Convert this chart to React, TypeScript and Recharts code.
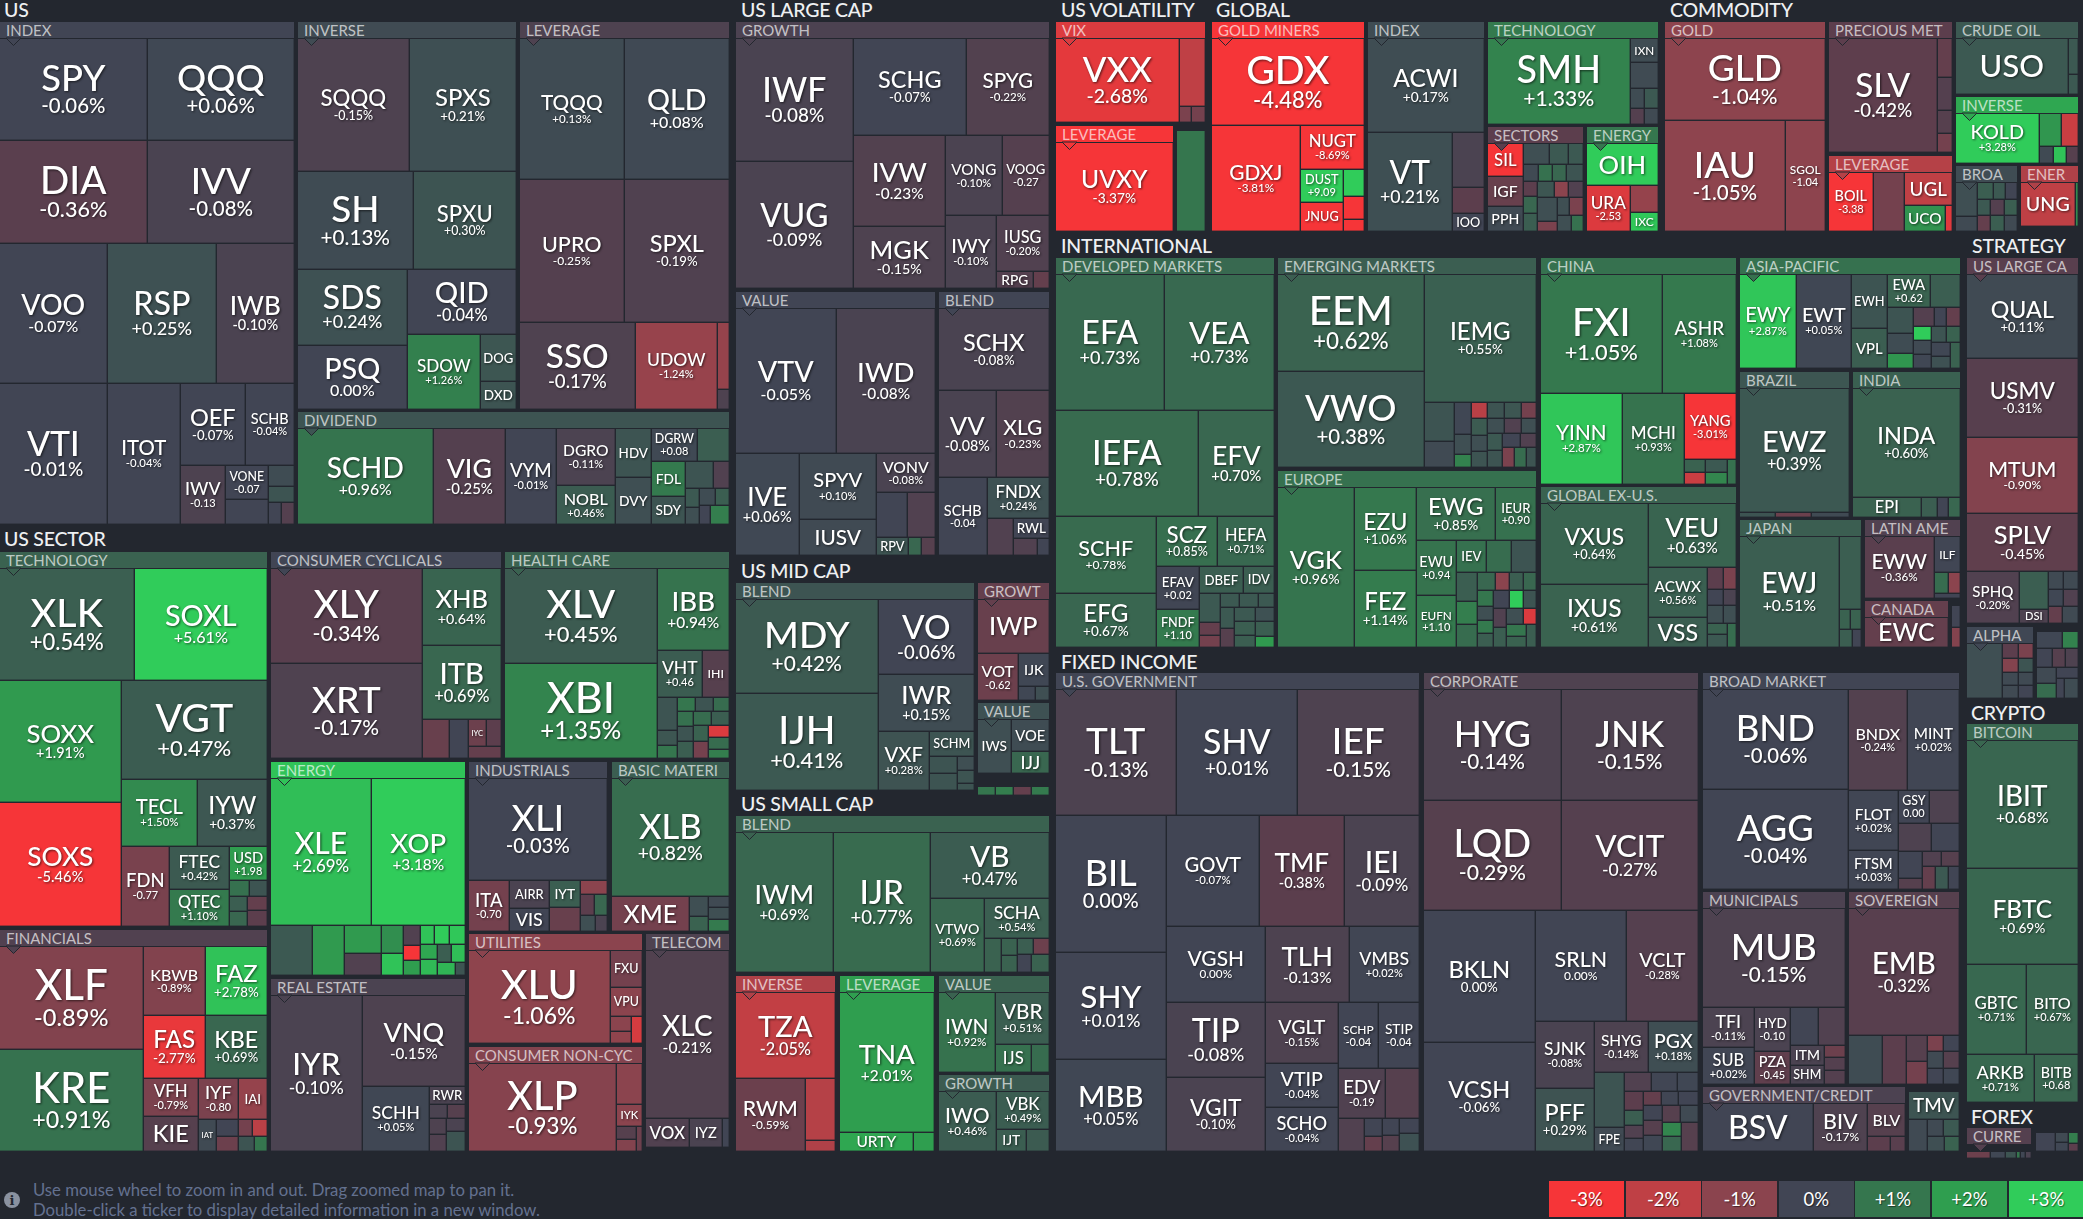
import { Treemap } from "recharts";

type Cell = [string, number, number, string?];
type Item = Cell | Item[];

const BG = "#23272f";
const FONT = "Lato, sans-serif";

const usIndex: Cell[] = [["SPY", 14850, -0.06], ["QQQ", 14800, 0.06], ["DIA", 15000, -0.36], ["IVV", 14900, -0.08], ["VOO", 14870, -0.07], ["VTI", 15140, -0.01], ["RSP", 15100, 0.25], ["IWB", 10700, -0.1], ["ITOT", 10220, -0.04], ["OEF", 5250, -0.07], ["SCHB", 4020, -0.04], ["IWV", 2640, -0.13, "n"], ["VONE", 1430, -0.07, "n"], ["", 1050, -0.02], ["", 550, 0.15], ["", 416, 0.3], ["", 280, -0.02], ["", 270, -0.25]];
const usInverse: Cell[] = [["SQQQ", 14780, -0.15], ["SPXS", 13990, 0.21], ["SH", 11270, 0.13], ["SPXU", 10090, 0.3], ["SDS", 8250, 0.24], ["PSQ", 7040, 0], ["QID", 7020, -0.04], ["SDOW", 5400, 1.26], ["DOG", 1680, 0.35, "t"], ["DXD", 945, 0.3, "t"]];
const usLeverage: Cell[] = [["TQQQ", 14700, 0.13], ["QLD", 14560, 0.08], ["UPRO", 14910, -0.25], ["SPXL", 14770, -0.19], ["SSO", 10000, -0.17], ["UDOW", 7050, -1.24], ["", 800, -1.2], ["", 340, -0.15]];
const usDividend: Cell[] = [["SCHD", 12600, 0.96], ["VIG", 6670, -0.25], ["VYM", 4700, -0.01], ["DGRO", 3220, -0.11], ["NOBL", 2260, 0.46], ["HDV", 1715, 0.3, "t"], ["DVY", 1610, 0.2, "t"], ["DGRW", 1470, 0.08, "n"], ["", 1020, 0.5], ["FDL", 1160, 1.1, "t"], ["SDY", 920, 0.3, "t"], ["", 730, 0.3], ["", 430, -0.2], ["", 255, 0.4], ["", 240, 0.2], ["", 270, 0.15], ["", 225, 0.5], ["", 210, 0], ["", 240, 1.2]];

const secTech: Cell[] = [["XLK", 14820, 0.54], ["SOXL", 14760, 5.61], ["SOXX", 14640, 1.91], ["SOXS", 14760, -5.46], ["VGT", 14260, 0.47], ["TECL", 5020, 1.5], ["IYW", 4620, 0.37], ["FDN", 3810, -0.77, "n"], ["FTEC", 2540, 0.42], ["QTEC", 2180, 1.1], ["USD", 1270, 1.98, "n"], ["", 310, 0.9], ["", 290, 0.3], ["", 270, 0.5], ["", 250, 0.7], ["", 270, -0.5], ["", 250, -0.4]];
const secCyclical: Cell[] = [["XLY", 14180, -0.34], ["XRT", 14180, -0.17], ["XHB", 6000, 0.64], ["ITB", 5770, 0.69], ["", 1050, -0.55], ["", 740, -0.05], ["IYC", 480, -0.6, "t"], ["", 400, -0.4], ["", 260, -0.5]];
const secHealth: Cell[] = [["XLV", 14080, 0.45], ["XBI", 14080, 1.35], ["IBB", 5770, 0.94], ["VHT", 2070, 0.46, "n"], ["IHI", 1215, -0.3, "t"], ["", 640, 0.3], ["", 300, 0.35], ["", 250, 1], ["", 250, 1], ["", 240, 0.3], ["", 240, 0.8], ["", 240, 0.9], ["", 240, 0.3], ["", 240, 0.5], ["", 240, 0.8], ["", 240, 0.5], ["", 240, 0.6], ["", 240, -0.7], ["", 240, -2.5], ["", 240, 0.8], ["", 240, 1.2]];
const secEnergy: Cell[] = [["XLE", 14200, 2.69], ["XOP", 13200, 3.18], ["", 2010, 0.4], ["", 1540, 1.9], ["", 990, 1.9], ["", 780, -0.2], ["", 580, 1.6], ["", 460, 2.8], ["", 320, -0.2], ["", 250, -3], ["", 240, 2], ["", 260, 2.8], ["", 270, 3], ["", 280, 2.9], ["", 240, 2.2], ["", 270, 2.6], ["", 240, 0.5], ["", 230, 2.7], ["", 230, 2.5], ["", 220, 0.3]];
const secIndustrial: Cell[] = [["XLI", 13660, -0.03], ["ITA", 2030, -0.7, "n"], ["AIRR", 1060, -0.1, "t"], ["VIS", 910, -0.05, "t"], ["IYT", 810, 0.5, "t"], ["", 700, -0.55], ["", 370, -1], ["", 280, -0.4], ["", 270, 0.7], ["", 230, 0.2], ["", 170, -0.1]];
const secMaterials: Cell[] = [["XLB", 13500, 0.82], ["XME", 2640, -0.7, "t"], ["", 370, 0.2], ["", 260, 0.6], ["", 230, 0.1], ["", 250, 0.2], ["", 240, 1.1]];
const secFinancials: Cell[] = [["XLF", 14380, -0.89], ["KRE", 14240, 0.91], ["KBWB", 4150, -0.89], ["FAZ", 4150, 2.78], ["FAS", 3780, -2.77], ["KBE", 3780, 0.69], ["VFH", 2010, -0.79], ["KIE", 1855, -0.3, "t"], ["IYF", 1600, -0.8, "n"], ["IAI", 1170, -1.2, "t"], ["IAT", 560, 0.1, "t"], ["", 364, -0.05], ["", 306, -0.6], ["", 238, -0.7], ["", 252, -1.9], ["", 231, 0.3], ["", 264, 1]];
const secRealEstate: Cell[] = [["IYR", 13950, -0.1], ["VNQ", 9110, -0.15], ["SCHH", 4224, 0.05], ["RWR", 630, -0.1, "t"], ["", 240, -0.1], ["", 240, -0.3], ["", 270, -0.15], ["", 270, -0.2], ["", 240, -0.1], ["", 240, 0.3]];
const secUtilities: Cell[] = [["XLU", 12740, -1.06], ["FXU", 1150, -0.7, "t"], ["VPU", 900, -1, "t"], ["", 310, -1], ["", 240, -1.1], ["", 240, -2.4]];
const secStaples: Cell[] = [["XLP", 12430, -0.93], ["", 1030, -1], ["IYK", 540, -1, "t"], ["", 247, -0.3], ["", 230, -0.9], ["", 180, -0.6]];
const secTelecom: Cell[] = [["XLC", 13700, -0.21], ["VOX", 1250, -0.2, "t"], ["IYZ", 930, -0.1, "t"], ["", 170, -0.05]];

const lcGrowth: Cell[] = [["IWF", 14210, -0.08], ["VUG", 14500, -0.09], ["SCHG", 10735, -0.07], ["SPYG", 7790, -0.22], ["IVW", 8140, -0.23], ["MGK", 5640, -0.15], ["VONG", 4424, -0.1], ["VOOG", 3713, -0.27, "n"], ["IWY", 3600, -0.1], ["IUSG", 2915, -0.2], ["RPG", 612, -0.25, "t"], ["", 272, -0.5]];
const lcValue: Item[] = [["VTV", 14200, -0.05], ["IWD", 13920, -0.08], ["IVE", 6320, 0.06], [["SPYV", 4910, 0.1], ["IUSV", 2700, 0.1, "t"]], [["VONV", 2240, -0.08], ["", 1360, -0.01], ["", 1230, -0.2], ["RPV", 558, 0.3, "t"], ["", 234, 0.7], ["", 252, -0.3]]];
const lcBlend: Cell[] = [["SCHX", 8800, -0.08], ["VV", 4845, -0.08], ["XLG", 4420, -0.23], ["SCHB", 3670, -0.04, "n"], ["FNDX", 2420, 0.24], ["", 940, -0.2], ["RWL", 684, -0.02, "t"], ["", 396, -0.2], ["", 234, -0.05]];

const mcBlend: Cell[] = [["MDY", 13020, 0.42], ["IJH", 13300, 0.41], ["VO", 6910, -0.06], ["IWR", 5280, 0.15], ["VXF", 2880, 0.28], ["SCHM", 1080, 0.3, "t"], ["", 468, 0.3], ["", 442, 0.3], ["", 230, 0.2], ["", 220, 0.3], ["", 260, 0.3]];
const mcGrowth: Cell[] = [["IWP", 3690, -0.55, "t"], ["VOT", 1820, -0.62, "n"], ["IJK", 960, 0.05, "t"], ["", 224, 0.05], ["", 196, 0.2]];
const mcValue: Cell[] = [["IWS", 1700, 0.2, "t"], ["VOE", 1140, 0.15, "t"], ["IJJ", 800, 0.7, "t"]];
const mcOther: Cell[] = [["", 130, 1], ["", 130, 1.2], ["", 130, -0.5], ["", 125, 1.1]];

const scBlend: Cell[] = [["IWM", 13440, 0.69], ["IJR", 13300, 0.77], ["VB", 7616, 0.47], ["VTWO", 3900, 0.69], ["SCHA", 2535, 0.54], ["", 578, 0.6], ["", 272, 0.6], ["", 256, 0.6], ["", 255, 0.5], ["", 240, -0.6], ["", 238, 0], ["", 224, 0.6]];
const scInverse: Cell[] = [["TZA", 8316, -2.05], ["RWM", 4964, -0.59], ["", 1800, -1.8], ["", 360, -1.7]];
const scLeverage: Cell[] = [["TNA", 13040, 2.01], ["URTY", 1370, 2.2, "t"], ["", 370, 2]];
const scValue: Cell[] = [["IWN", 4345, 0.92], ["VBR", 2700, 0.51], ["IJS", 980, 0.9, "t"], ["", 504, 0.8]];
const scGrowth: Cell[] = [["IWO", 3300, 0.46], ["VBK", 1900, 0.49], ["IJT", 620, 0.5, "t"], ["", 490, 0.45]];

const volVix: Cell[] = [["VXX", 10130, -2.68], ["", 1716, -2], ["", 180, -0.8], ["", 195, -0.7]];
const volLeverage: Cell[] = [["UVXY", 10300, -3.37]];
const volOther: Cell[] = [["", 2800, 1]];

const glGold: Item[] = [["GDX", 12920, -4.48], ["GDXJ", 9135, -3.81], ["NUGT", 2730, -8.69], [[["DUST", 1360, 9.09, "n"], ["JNUG", 1190, -3.4, "t"]], [["", 546, 3], ["", 462, -3.5], ["", 252, -3.2]]]];
const glIndex: Cell[] = [["ACWI", 10750, 0.17], ["VT", 8134, 0.21], ["", 1696, -0.1], ["", 800, -0.4], ["IOO", 576, -0.05, "t"]];
const glTech: Cell[] = [["SMH", 11900, 1.33], ["IXN", 638, 0.15, "t"], ["", 696, 0.12], ["", 266, 0.15], ["", 266, 0.4], ["", 210, -0.25], ["", 210, 0.1]];
const glSectors: Cell[] = [["SIL", 1105, -3, "t"], ["IGF", 1005, -0.55, "t"], ["PPH", 770, 0.1, "t"], ["", 503, 0.2], ["", 361, 0.4], ["", 266, 0.4], ["", 240, 0.1], ["", 216, 0.9], ["", 224, 0.7], ["", 256, 0.3], ["", 195, -0.4], ["", 220, 0.7], ["", 210, 0.5], ["", 250, 0.35], ["", 208, -1], ["", 221, -0.2], ["", 442, 0.2], ["", 186, -0.8], ["", 204, 0.2], ["", 231, -0.8], ["", 210, 0.2], ["", 231, 0.9]];
const glEnergy: Cell[] = [["OIH", 2840, 3, "t"], ["URA", 1930, -2.53, "n"], ["", 720, -1.2], ["IXC", 486, 2.9, "t"]];

const coGold: Cell[] = [["GLD", 12800, -1.04], ["IAU", 13090, -1.05], ["SGOL", 4400, -1.04, "n"]];
const coPrecious: Cell[] = [["SLV", 12100, -0.42], ["", 570, -0.5], ["", 480, -0.25], ["", 330, -0.3], ["", 250, -0.7]];
const coLeverage: Cell[] = [["BOIL", 2494, -3.38, "n"], ["", 1700, -0.7], ["UGL", 1488, -2, "t"], ["UCO", 1014, 1.7, "t"], ["", 208, -2.6]];
const coCrude: Cell[] = [["USO", 6048, 0.4, "t"], ["", 340, 0.4], ["", 190, 0.4]];
const coInverse: Cell[] = [["KOLD", 3969, 3.28], ["", 682, 1.8], ["", 527, -2.2], ["", 224, 0.1], ["", 208, 2.8], ["", 176, -0.3]];
const coBroad: Cell[] = [["", 660, 0.2], ["", 280, 0.1], ["", 240, 0.5], ["", 176, 0.4], ["", 176, 0], ["", 180, 0.4], ["", 195, -0.5], ["", 195, -0.25], ["", 180, 0.5], ["", 195, 0.5], ["", 195, 0.1]];
const coEnergy: Cell[] = [["UNG", 2279, -2, "t"], ["", 129, 1.5]];

const inDeveloped: Cell[] = [["EFA", 14364, 0.73], ["VEA", 14364, 0.73], ["IEFA", 14664, 0.78], ["EFV", 7852, 0.7], ["SCHF", 7546, 0.78], ["EFG", 5292, 0.67], ["SCZ", 2976, 0.85], ["HEFA", 2688, 0.71], ["EFAV", 1804, 0.02, "n"], ["FNDF", 1558, 1.1, "n"], ["DBEF", 1144, 0.5, "t"], ["IDV", 832, 0.5, "t"], ["", 580, 0.4], ["", 260, -0.5], ["", 240, -0.7], ["", 252, 0.4], ["", 252, 0.4], ["", 252, 0.4], ["", 280, 0.4], ["", 260, -0.3], ["", 280, 0.4], ["", 260, 0.25], ["", 280, 0.5], ["", 260, 0.5], ["", 280, 0.5], ["", 240, 1.9]];
const inEmerging: Cell[] = [["EEM", 13680, 0.62], ["VWO", 13680, 0.38], ["IEMG", 13786, 0.55], ["", 1120, 0.3], ["", 756, 0.1], ["", 520, 0.05], ["", 320, 0.2], ["", 220, 1.3], ["", 240, -1.9], ["", 255, 0.3], ["", 255, 0.35], ["", 255, -0.7], ["", 255, 0.45], ["", 240, 0.2], ["", 240, 0.3], ["", 240, 0.2], ["", 240, -0.2], ["", 240, 0.2], ["", 240, 0.4], ["", 240, 0.3], ["", 240, 0], ["", 225, -0.2], ["", 225, -0.8], ["", 225, 0.8], ["", 225, 0.3]];
const inEurope: Cell[] = [["VGK", 11680, 0.96], ["EZU", 4920, 1.06], ["FEZ", 4500, 1.14], ["EWG", 4000, 0.85], ["IEUR", 2100, 0.9, "n"], ["EWU", 2090, 0.94, "n"], ["EUFN", 1938, 1.1, "n"], ["IEV", 900, 0.9, "t"], ["", 754, 0.8], ["", 754, 0.3], ["", 580, 0.5], ["", 460, 1.2], ["", 460, 0.8], ["", 306, 0.7], ["", 238, -1], ["", 238, 0.5], ["", 238, 0.7], ["", 238, 1], ["", 210, 0.2], ["", 200, 1.1], ["", 200, 0.5], ["", 272, 0], ["", 238, 3], ["", 238, 0.3], ["", 240, -0.2], ["", 260, 0.5], ["", 260, 0.2], ["", 209, -2.5], ["", 220, 1], ["", 228, 0.6], ["", 240, 0.5]];
const inChina: Cell[] = [["FXI", 13990, 1.05], ["ASHR", 8584, 1.08], ["YINN", 7200, 2.87], ["MCHI", 5463, 0.93], ["YANG", 3307, -3.01], ["", 260, 0.6], ["", 240, -2.2], ["", 273, 0.4], ["", 252, 1.4], ["", 234, 0.9]];
const inGlobal: Cell[] = [["VXUS", 8374, 0.64], ["IXUS", 6572, 0.61], ["VEU", 5400, 0.63], ["ACWX", 2818, 0.56], ["VSS", 1725, 0.5, "t"], ["", 336, -0.4], ["", 273, -0.8], ["", 240, -0.05], ["", 195, -0.1], ["", 272, 0.2], ["", 221, 0.2], ["", 220, 0.6], ["", 240, 0.4], ["", 216, 0.8]];
const inAsia: Cell[] = [["EWY", 5022, 2.87], ["EWT", 4929, 0.05], ["EWH", 1820, 0.3, "t"], ["VPL", 1365, 0.5, "t"], ["EWA", 1333, 0.62, "n"], ["", 930, 0.5], ["", 627, 0.3], ["", 494, 0.15], ["", 399, 1.8], ["", 380, -0.25], ["", 209, 0], ["", 266, -0.5], ["", 238, 3], ["", 238, 0.1], ["", 247, 0.05], ["", 221, 0.3], ["", 221, 0.6], ["", 247, 0.05], ["", 221, 0.25], ["", 221, 0.6]];
const inBrazil: Cell[] = [["EWZ", 13189, 0.39], ["", 175, 0.3], ["", 175, -0.6], ["", 180, 0.1]];
const inIndia: Cell[] = [["INDA", 11342, 0.6], ["EPI", 1320, 0.6, "t"], ["", 300, 0.5], ["", 220, 0], ["", 220, 0.7]];
const inJapan: Cell[] = [["EWJ", 10670, 0.51], ["", 1541, 0.5], ["", 209, 0.6], ["", 209, 0.6], ["", 220, 0.5], ["", 220, 0]];
const inLatin: Cell[] = [["EWW", 4026, -0.36], ["ILF", 864, 0.02, "t"], ["", 280, 0.8], ["", 220, -1], ["", 150, -0.05]];
const inCanada: Cell[] = [["EWC", 2400, -0.5, "t"]];
const inOther: Cell[] = [["", 168, 0], ["", 160, -0.9]];

const stLarge: Item[] = [[["QUAL", 9102, 0.11], ["USMV", 8547, -0.31], ["MTUM", 8214, -0.9], ["SPLV", 6216, -0.45]], [["SPHQ", 2700, -0.2], ["", 1064, 0.5], ["DSI", 420, -0.15, "t"], ["", 270, 0.1], ["", 255, 0.1], ["", 240, 0.05], ["", 252, -0.2], ["", 238, -0.5], ["", 224, 0.1]]];
const stAlpha: Cell[] = [["", 1890, 0.2], ["", 224, -0.4], ["", 224, -0.8], ["", 208, -0.9], ["", 192, 0.3], ["", 196, 0.1], ["", 196, 0.1], ["", 182, 0.1], ["", 168, -0.02]];
const stOther: Cell[] = [["", 400, 0.05], ["", 240, 1.3], ["", 285, -0.05], ["", 228, -0.3], ["", 228, -0.15], ["", 300, 0.1], ["", 260, 0.8], ["", 220, -0.05], ["", 150, 0], ["", 250, 0.15]];

const fiGov: Cell[] = [["TLT", 14880, -0.13], ["SHV", 14880, 0.01], ["IEF", 14880, -0.15], ["BIL", 14850, 0], ["SHY", 11550, 0.01], ["MBB", 10120, 0.05], ["GOVT", 10120, -0.07], ["TMF", 9240, -0.38], ["IEI", 8140, -0.09], ["VGSH", 7350, 0], ["TIP", 7252, -0.08], ["VGIT", 7056, -0.1], ["TLH", 6225, -0.13], ["VMBS", 5175, 0.02], ["VGLT", 4320, -0.15], ["VTIP", 3168, -0.04], ["SCHO", 3168, -0.04], ["SCHP", 2600, -0.04, "n"], ["STIP", 2600, -0.04, "n"], ["EDV", 2300, -0.19, "n"], ["", 1650, -0.3], ["", 825, -0.2], ["", 324, -0.01], ["", 252, -0.5], ["", 289, -0.01], ["", 255, -0.3], ["", 289, -0.05], ["", 255, 0.25]];
const fiCorp: Cell[] = [["HYG", 14933, -0.14], ["JNK", 14933, -0.15], ["LQD", 14796, -0.29], ["VCIT", 14796, -0.27], ["BKLN", 14410, 0], ["VCSH", 11880, -0.06], ["SRLN", 9828, 0], ["VCLT", 7776, -0.28], ["SJNK", 3828, -0.08], ["PFF", 3654, 0.29], ["SHYG", 2700, -0.14], ["PGX", 2500, 0.18], ["", 1620, 0.3], ["FPE", 720, 0.1, "t"], ["", 494, -0.2], ["", 475, 0.02], ["", 399, 0.05], ["", 345, -0.4], ["", 285, 0.5], ["", 240, -0.2], ["", 247, 0.02], ["", 247, -0.5], ["", 234, 0.02], ["", 285, 0], ["", 285, -0.01], ["", 270, -0.3], ["", 304, 0.05], ["", 304, -0.3], ["", 288, 0.1], ["", 266, 1.4], ["", 266, 0.7], ["", 252, -0.3]];
const fiBroad: Cell[] = [["BND", 14112, -0.06], ["AGG", 14112, -0.04], ["BNDX", 5800, -0.24], ["MINT", 5050, 0.02], ["FLOT", 2891, 0.02], ["FTSM", 1862, 0.03], ["GSY", 992, 0, "n"], ["", 960, -0.15], ["", 891, -0.15], ["", 756, -0.02], ["", 629, -0.02], ["", 270, -0.3], ["", 270, -0.2], ["", 252, -0.3], ["", 285, -0.5], ["", 285, 0.4], ["", 266, -0.05]];
const fiMuni: Cell[] = [["MUB", 13632, -0.15], ["TFI", 1989, -0.11], ["SUB", 1887, 0.02], ["HYD", 1505, -0.1, "n"], ["PZA", 1155, -0.45, "n"], ["", 1018, -0.02], ["", 962, -0.2], ["ITM", 660, -0.1, "t"], ["SHM", 594, -0.08, "t"], ["", 240, -0.6], ["", 260, -0.25], ["", 240, -0.25]];
const fiSovereign: Cell[] = [["EMB", 13530, -0.32], ["", 1600, 0.15], ["", 1150, -0.4], ["", 520, -0.3], ["", 460, -0.7], ["", 240, -0.8], ["", 256, -0.05], ["", 255, 0.1], ["", 272, -0.3], ["", 240, -0.05], ["", 256, 0.05]];
const fiCredit: Cell[] = [["BSV", 5014, -0.05, "t"], ["BIV", 2438, -0.17], ["BLV", 1178, -0.3, "t"], ["", 322, -0.4], ["", 196, -0.35]];
const fiOther: Cell[] = [["TMV", 1300, 0.3, "t"], ["", 544, 0.1], ["", 248, 0.1], ["", 248, 0.4], ["", 232, 0.2], ["", 232, 0.6]];

const crBitcoin: Cell[] = [["IBIT", 13986, 0.68], ["FBTC", 10434, 0.69], ["GBTC", 5251, 0.71], ["BITO", 4539, 0.67], ["ARKB", 3168, 0.71], ["BITB", 2112, 0.68, "n"]];
const fxCurrency: Cell[] = [["", 110, -0.6], ["", 70, 0.05], ["", 50, 0.3], ["", 20, 1], ["", 25, 0.05], ["", 25, -0.1]];
const fxOther: Cell[] = [["", 306, -0.05], ["", 108, 0.1], ["", 96, 0.05], ["", 90, 1.2], ["", 72, -0.4]];

const legendSteps = [-3, -2, -1, 0, 1, 2, 3];
const legendLabels = ["-3%", "-2%", "-1%", "0%", "+1%", "+2%", "+3%"];

// label, cells, header change, left, right, top, bottom (label "" = too small for a header)
const panels: [string, Item[], number, number, number, number, number][] = [
  ["INDEX", usIndex, -0.03, 0, 294, 22, 524],
  ["INVERSE", usInverse, 0.12, 298, 516, 22, 409],
  ["LEVERAGE", usLeverage, -0.15, 520, 729, 22, 409],
  ["DIVIDEND", usDividend, 0.3, 298, 729, 412, 524],
  ["TECHNOLOGY", secTech, 0.6, 0, 267, 552, 926],
  ["CONSUMER CYCLICALS", secCyclical, -0.05, 271, 501, 552, 758],
  ["HEALTH CARE", secHealth, 0.6, 505, 729, 552, 758],
  ["ENERGY", secEnergy, 2.8, 271, 465, 762, 975],
  ["INDUSTRIALS", secIndustrial, -0.03, 469, 607, 762, 931],
  ["BASIC MATERI", secMaterials, 0.5, 612, 729, 762, 931],
  ["FINANCIALS", secFinancials, -0.2, 0, 267, 930, 1151],
  ["REAL ESTATE", secRealEstate, -0.1, 271, 465, 979, 1151],
  ["UTILITIES", secUtilities, -1, 469, 642, 934, 1043],
  ["CONSUMER NON-CYC", secStaples, -0.9, 469, 642, 1047, 1151],
  ["TELECOM", secTelecom, -0.15, 646, 729, 934, 1147],
  ["GROWTH", lcGrowth, -0.12, 736, 1049, 22, 288],
  ["VALUE", lcValue, -0.02, 736, 935, 292, 555],
  ["BLEND", lcBlend, -0.05, 939, 1049, 292, 555],
  ["BLEND", mcBlend, 0.3, 736, 974, 583, 790],
  ["GROWT", mcGrowth, -0.5, 978, 1049, 583, 700],
  ["VALUE", mcValue, 0.25, 978, 1049, 703, 773],
  ["", mcOther, 0, 978, 1049, 782, 790],
  ["BLEND", scBlend, 0.6, 736, 1049, 816, 972],
  ["INVERSE", scInverse, -1.7, 736, 835, 976, 1151],
  ["LEVERAGE", scLeverage, 2, 840, 934, 976, 1151],
  ["VALUE", scValue, 0.6, 939, 1049, 976, 1072],
  ["GROWTH", scGrowth, 0.45, 939, 1049, 1075, 1151],
  ["VIX", volVix, -2.5, 1056, 1205, 22, 122],
  ["LEVERAGE", volLeverage, -3.3, 1056, 1173, 126, 231],
  ["", volOther, 1, 1177, 1205, 131, 231],
  ["GOLD MINERS", glGold, -4, 1212, 1364, 22, 231],
  ["INDEX", glIndex, 0.15, 1368, 1484, 22, 231],
  ["TECHNOLOGY", glTech, 1.1, 1488, 1658, 22, 124],
  ["SECTORS", glSectors, -0.4, 1488, 1583, 127, 231],
  ["ENERGY", glEnergy, 1, 1587, 1658, 127, 231],
  ["GOLD", coGold, -1.05, 1665, 1825, 22, 231],
  ["PRECIOUS MET", coPrecious, -0.4, 1829, 1952, 22, 152],
  ["LEVERAGE", coLeverage, -1.8, 1829, 1952, 156, 231],
  ["CRUDE OIL", coCrude, 0.4, 1956, 2078, 22, 94],
  ["INVERSE", coInverse, 2.2, 1956, 2078, 97, 163],
  ["BROA", coBroad, 0.15, 1956, 2017, 166, 231],
  ["ENER", coEnergy, -1.7, 2021, 2078, 166, 226],
  ["DEVELOPED MARKETS", inDeveloped, 0.74, 1056, 1274, 258, 647],
  ["EMERGING MARKETS", inEmerging, 0.5, 1278, 1536, 258, 467],
  ["EUROPE", inEurope, 0.9, 1278, 1536, 471, 647],
  ["CHINA", inChina, 0.9, 1541, 1736, 258, 484],
  ["GLOBAL EX-U.S.", inGlobal, 0.6, 1541, 1736, 487, 647],
  ["ASIA-PACIFIC", inAsia, 0.9, 1740, 1960, 258, 368],
  ["BRAZIL", inBrazil, 0.35, 1740, 1849, 372, 517],
  ["INDIA", inIndia, 0.55, 1853, 1960, 372, 517],
  ["JAPAN", inJapan, 0.5, 1740, 1861, 520, 647],
  ["LATIN AME", inLatin, -0.2, 1865, 1960, 520, 598],
  ["CANADA", inCanada, -0.5, 1865, 1948, 601, 647],
  ["", inOther, 0, 1952, 1960, 606, 647],
  ["US LARGE CA", stLarge, -0.35, 1967, 2078, 258, 623],
  ["ALPHA", stAlpha, 0.05, 1967, 2033, 627, 698],
  ["", stOther, 0, 2037, 2078, 632, 698],
  ["U.S. GOVERNMENT", fiGov, -0.05, 1056, 1419, 673, 1151],
  ["CORPORATE", fiCorp, -0.17, 1424, 1698, 673, 1151],
  ["BROAD MARKET", fiBroad, -0.07, 1703, 1959, 673, 889],
  ["MUNICIPALS", fiMuni, -0.12, 1703, 1845, 892, 1084],
  ["SOVEREIGN", fiSovereign, -0.3, 1849, 1959, 892, 1084],
  ["GOVERNMENT/CREDIT", fiCredit, -0.12, 1703, 1905, 1087, 1151],
  ["", fiOther, 0, 1909, 1959, 1092, 1151],
  ["BITCOIN", crBitcoin, 0.7, 1967, 2078, 724, 1102],
  ["CURRE", fxCurrency, -0.25, 1967, 2031, 1128, 1151],
  ["", fxOther, 0, 2036, 2078, 1133, 1151],
];

const titles: [string, number, number][] = [
  ["US", 4, 10], ["US LARGE CAP", 741, 10], ["US VOLATILITY", 1061, 10], ["GLOBAL", 1216, 10], ["COMMODITY", 1670, 10],
  ["US SECTOR", 4, 539], ["US MID CAP", 741, 571], ["US SMALL CAP", 741, 804], ["INTERNATIONAL", 1061, 246],
  ["STRATEGY", 1972, 246], ["FIXED INCOME", 1061, 662], ["CRYPTO", 1971, 713], ["FOREX", 1971, 1117],
];

// finviz scale, with the purple bend just under zero
const stops: [number, string][] = [
  [-3, "#f63538"], [-2, "#bf4045"], [-1, "#8b444e"], [-0.4, "#5c3e4d"], [-0.08, "#4a4351"], [-0.07, "#414554"],
  [0, "#414554"], [1, "#35764e"], [2, "#2f9e4f"], [3, "#30cc5a"],
];

function colorFor(change: number) {
  const c = Math.max(-3, Math.min(3, change));
  let i = 0;
  while (i < stops.length - 2 && c > stops[i + 1][0]) i++;
  const f = (c - stops[i][0]) / (stops[i + 1][0] - stops[i][0]);
  const a = parseInt(stops[i][1].slice(1), 16);
  const b = parseInt(stops[i + 1][1].slice(1), 16);
  const mix = (s: number) => Math.round((((a >> s) & 255) * (1 - f)) + (((b >> s) & 255) * f));
  return `rgb(${mix(16)},${mix(8)},${mix(0)})`;
}

const ctx = document.createElement("canvas").getContext("2d")!;
function emWidth(text: string) {
  ctx.font = `100px Lato`;
  return ctx.measureText(text).width / 100;
}

function formatChange(change: number, mode?: string) {
  const s = change === 0 ? "0.00" : `${change > 0 ? "+" : ""}${change.toFixed(2)}`;
  return mode === "n" ? s : `${s}%`;
}

function toNode(item: Item): any {
  if (typeof item[0] === "string") {
    const [name, size, change, mode] = item as Cell;
    return { name, size, change, mode };
  }
  return { name: "", children: (item as Item[]).map(toNode) };
}

function renderCell(props: any) {
  const { x, y, width, height, depth, children, name, change, mode } = props;
  if (depth === 0 || (children && children.length)) return <g />;
  const w = Math.max(0, width - 1.4);
  const h = Math.max(0, height - 1.4);
  const textShadow = { filter: "drop-shadow(1px 1px 1px rgba(0,0,0,.6))" };
  let label = null;
  if (name) {
    const fit = Math.max(0.57, Math.min(0.82, 0.8 - ((w - 50) * 0.23) / 50));
    const cap = 36 + 7 * Math.min(1, Math.abs(change));
    const em = Math.max(1.7, (emWidth(name) + name.length * 0.68) / 2);
    const size = Math.min((w * fit) / em, h * (mode === "t" ? 0.88 : 0.46), cap);
    const cx = x + w / 2;
    const cy = y + h / 2;
    if (mode === "t") {
      label = (
        <text x={cx} y={cy + size * 0.36} textAnchor="middle" fill="#fff" fontSize={size} fontWeight={500} style={textShadow}>{name}</text>
      );
    } else {
      const text = formatChange(change, mode);
      const small = Math.min(Math.max(size * 0.56, 11), (w * 0.82) / emWidth(text));
      const base = cy + (size * 0.72 - small * 1.08) / 2;
      label = (
        <g style={textShadow} fontWeight={500}>
          <text x={cx} y={base} textAnchor="middle" fill="#fff" fontSize={size}>{name}</text>
          <text x={cx} y={base + small * 1.08} textAnchor="middle" fill="#fff" fontSize={small}>{text}</text>
        </g>
      );
    }
  }
  return (
    <g fontFamily={FONT}>
      <rect x={x} y={y} width={w} height={h} fill={colorFor(change)} />
      {label}
    </g>
  );
}

function Panel({ label, cells, headChange, left, right, top, bottom }: any) {
  const headH = label ? 17 : 0;
  const width = right - left + 1;
  const height = bottom - top - headH + 1;
  const data = cells.map(toNode);
  const fill = colorFor(headChange);
  return (
    <div style={{ position: "absolute", left, top, width, height: height + headH }}>
      {label && (
        <div style={{ position: "absolute", left: 0, top: 0, width: width - 1, height: headH - 1, background: fill, color: "rgba(255,255,255,.68)", fontFamily: FONT, fontSize: 15, lineHeight: "17px", paddingLeft: 6, boxSizing: "border-box", overflow: "hidden", whiteSpace: "nowrap" }}>
          {label}
        </div>
      )}
      <div style={{ position: "absolute", left: 0, top: headH }}>
        <Treemap width={width} height={height} data={data} dataKey="size" aspectRatio={1} type="flat" isAnimationActive={false} content={renderCell} />
      </div>
      {label && (
        <svg style={{ position: "absolute", left: 0, top: headH - 1, overflow: "visible" }} width={30} height={10}>
          <polygon points="6,0 21,0 13.5,7.5" fill={fill} stroke={BG} strokeWidth={1} />
        </svg>
      )}
    </div>
  );
}

export default function App() {
  document.body.style.margin = "0";
  document.body.style.background = BG;
  return (
    <div style={{ position: "absolute", left: 0, top: 0, width: 2083, height: 1219, background: BG, overflow: "hidden" }}>
      {titles.map(([text, x, y]) => (
        <div key={text} style={{ position: "absolute", left: x, top: y - 10, fontFamily: FONT, fontSize: 19.5, lineHeight: "20px", color: "#eef0f2", letterSpacing: -0.2, whiteSpace: "nowrap", fontWeight: 500 }}>{text}</div>
      ))}
      {panels.map(([label, cells, headChange, left, right, top, bottom], i) => (
        <Panel key={i} label={label} cells={cells} headChange={headChange} left={left} right={right} top={top} bottom={bottom} />
      ))}
      <svg style={{ position: "absolute", left: 3, top: 1191 }} width={20} height={20}>
        <circle cx={9} cy={9} r={8} fill="#8a92a0" />
        <text x={9} y={14} textAnchor="middle" fontFamily="DejaVu Serif" fontWeight="bold" fontSize={13} fill={BG}>i</text>
      </svg>
      <div style={{ position: "absolute", left: 33, top: 1180, fontFamily: FONT, fontSize: 16.7, lineHeight: "20px", color: "#63718f", whiteSpace: "nowrap" }}>
        Use mouse wheel to zoom in and out. Drag zoomed map to pan it.<br />
        Double-click a ticker to display detailed information in a new window.
      </div>
      {legendSteps.map((step, i) => (
        <div key={step} style={{ position: "absolute", left: 1549 + i * 76.6, top: 1181, width: 75, height: 36, background: colorFor(step), color: "#fff", fontFamily: FONT, fontSize: 18.5, lineHeight: "37px", textAlign: "center", textShadow: "1px 1px 1px rgba(0,0,0,.5)" }}>
          {legendLabels[i]}
        </div>
      ))}
    </div>
  );
}
